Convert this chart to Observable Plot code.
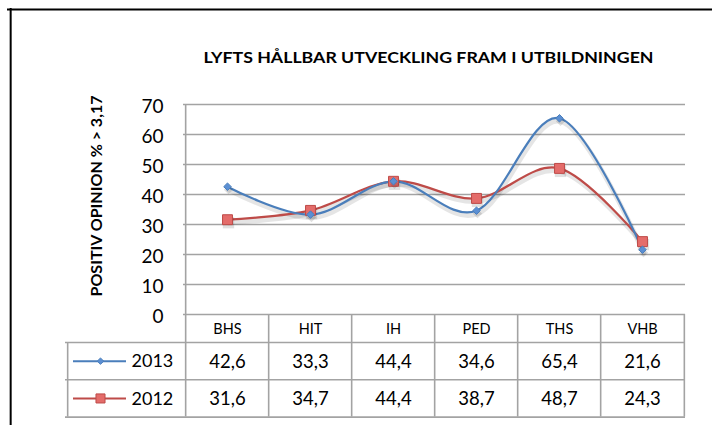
<!DOCTYPE html>
<html><head><meta charset="utf-8">
<script src="https://cdn.jsdelivr.net/npm/d3@7"></script>
<script src="https://cdn.jsdelivr.net/npm/@observablehq/plot@0.6"></script>
<style>
html,body{margin:0;padding:0;background:#fff;overflow:hidden;}
#chart{width:712px;height:425px;}
#chart svg{display:block;}
</style></head><body><div id="chart"></div>
<script>
// ---- data ----
const categories = ["BHS", "HIT", "IH", "PED", "THS", "VHB"];
const values2013 = [42.6, 33.3, 44.4, 34.6, 65.4, 21.6];
const values2012 = [31.6, 34.7, 44.4, 38.7, 48.7, 24.3];
const seriesNames = ["2013", "2012"];
const yTicks = [0, 10, 20, 30, 40, 50, 60, 70];
const titleText = "LYFTS HÅLLBAR UTVECKLING FRAM I UTBILDNINGEN";
const yLabelText = "POSITIV OPINION % > 3,17";

// ---- layout / style ----
const W = 712, H = 425, mL = 183, mR = 27, mT = 104, mB = 111;
const step = (W - mL - mR) / categories.length;
const headerH = 28, rowH = 37.3;
const tableH = headerH + 2 * rowH;
const legendLeft = 65;
const colors = {"2013": "#4A7EBB", "2012": "#BE4B48"};
const fills = {"2013": "#5B8FD3", "2012": "#E46C6A"};
const symbols = {"2013": "diamond2", "2012": "square"};
const radii = {"2013": 3.4, "2012": 5.6};
const legendRadii = {"2013": 2.9, "2012": 5.1};
const font = "Lato, 'Open Sans', sans-serif";
const grid = "#a3a3a3";
const titleWidth = 450, yLabelWidth = 201;

const locale = d3.formatLocale({decimal: ",", thousands: " ", grouping: [3], currency: ["", " kr"]});
const fmt = locale.format(".1f");

const seriesValues = {"2013": values2013, "2012": values2012};
const rows = seriesNames.flatMap(s => categories.map((c, i) => ({cat: c, series: s, value: seriesValues[s][i]})));

function build() {
  const yTop = yTicks[yTicks.length - 1];
  const frameCx = mL + (W - mL - mR) / 2, frameCy = mT + (H - mT - mB) / 2;
  const marks = [];
  // outer black border (top & left)
  marks.push(Plot.ruleY([yTop], {y: d => d, dy: -(mT - 9), insetLeft: -(mL - 7), insetRight: -mR, stroke: "#000", strokeWidth: 2}));
  marks.push(Plot.ruleX([categories[0]], {x: d => d, dx: -step / 2 - (mL - 8), y1: yTop, y2: 0, insetTop: -(mT - 8), insetBottom: -mB, stroke: "#000", strokeWidth: 2}));
  // gridlines (y=0 doubles as table top border)
  marks.push(Plot.ruleY(yTicks, {y: d => d, stroke: grid, strokeWidth: 1.4}));
  // y tick labels
  marks.push(Plot.axisY(yTicks, {tickSize: 0, tickPadding: 20, fontSize: 19, fontFamily: font, fill: "#000", dy: 2, label: null, tickFormat: d => d}));
  // y-axis vertical line + table left border of category columns
  marks.push(Plot.ruleX([categories[0]], {x: d => d, dx: -step / 2, y1: yTop, y2: 0, insetBottom: -tableH, stroke: grid, strokeWidth: 1.6}));
  marks.push(Plot.ruleX(categories.slice(1), {x: d => d, dx: -step / 2, y1: 0, y2: 0, insetBottom: -tableH, stroke: grid, strokeWidth: 1.6}));
  marks.push(Plot.ruleX([categories[categories.length - 1]], {x: d => d, dx: step / 2, y1: 0, y2: 0, insetBottom: -tableH, stroke: grid, strokeWidth: 1.6}));
  // legend column left border
  marks.push(Plot.ruleX([categories[0]], {x: d => d, dx: -step / 2 - (mL - legendLeft), y1: 0, y2: 0, insetTop: headerH, insetBottom: -tableH, stroke: grid, strokeWidth: 1.6}));
  // table horizontal lines
  [headerH, headerH + rowH, tableH].forEach(off => {
    marks.push(Plot.ruleY([0], {y: d => d, dy: off, insetLeft: -(mL - legendLeft), stroke: grid, strokeWidth: 1.6}));
  });
  // title
  marks.push(Plot.text([titleText], {frameAnchor: "top", textAnchor: "middle", lineAnchor: "middle", dx: 428 - frameCx, dy: 57 - mT, fontSize: 16, fontWeight: "bold", fontFamily: font, fill: "#000"}));
  // y label
  marks.push(Plot.text([yLabelText], {frameAnchor: "left", textAnchor: "middle", lineAnchor: "middle", rotate: -90, dx: -(mL - 96), dy: 195.5 - frameCy, fontSize: 16, fontWeight: "bold", fontFamily: font, fill: "#000"}));
  // line shadows, lines, markers
  seriesNames.slice().reverse().forEach(s => {
    const d = rows.filter(r => r.series === s);
    marks.push(Plot.line(d, {x: "cat", y: "value", curve: "cardinal", stroke: "#000", strokeOpacity: 0.1, strokeWidth: 5, dx: 1, dy: 3}));
  });
  seriesNames.slice().reverse().forEach(s => {
    const d = rows.filter(r => r.series === s);
    marks.push(Plot.line(d, {x: "cat", y: "value", curve: "cardinal", stroke: colors[s], strokeWidth: 2.2}));
  });
  seriesNames.slice().reverse().forEach(s => {
    const d = rows.filter(r => r.series === s);
    marks.push(Plot.dot(d, {x: "cat", y: "value", symbol: symbols[s], r: radii[s] + 0.8, fill: "#000", fillOpacity: 0.12, dx: 1, dy: 3}));
    marks.push(Plot.dot(d, {x: "cat", y: "value", symbol: symbols[s], r: radii[s], fill: fills[s], stroke: colors[s], strokeWidth: 1}));
  });
  // table header: categories
  marks.push(Plot.text(categories, {x: d => d, frameAnchor: "bottom", lineAnchor: "middle", dy: headerH / 2 + 0.5, fontSize: 14.5, fontFamily: font, fill: "#000"}));
  // table rows
  seriesNames.forEach((s, i) => {
    const cy = headerH + rowH * i + rowH / 2 + 0.5;
    const d = rows.filter(r => r.series === s);
    marks.push(Plot.text(d, {x: "cat", text: r => fmt(r.value), frameAnchor: "bottom", lineAnchor: "middle", dy: cy, fontSize: 18.5, fontFamily: font, fill: "#000"}));
    // legend key
    marks.push(Plot.ruleY([0], {y: v => v, dy: cy - 0.5, insetLeft: -(mL - 73), insetRight: (W - mR) - 126, stroke: colors[s], strokeWidth: 2}));
    marks.push(Plot.dot([s], {frameAnchor: "bottom-left", dx: -(mL - 100), dy: cy - 0.5, symbol: symbols[s], r: legendRadii[s], fill: fills[s], stroke: colors[s], strokeWidth: 1}));
    marks.push(Plot.text([s], {frameAnchor: "bottom-left", dx: -(mL - 131), dy: cy, textAnchor: "start", lineAnchor: "middle", fontSize: 18, fontFamily: font, fill: "#000"}));
  });

  const chart = Plot.plot({
    width: W, height: H,
    marginLeft: mL, marginRight: mR, marginTop: mT, marginBottom: mB,
    style: {fontFamily: font, background: "#fff"},
    x: {type: "point", domain: categories, padding: 0.5, axis: null},
    y: {domain: [0, 70], axis: null},
    marks
  });
  // fit the bold title and axis label to the reference's text widths
  d3.select(chart).selectAll("text").each(function() {
    if (this.textContent === titleText) d3.select(this).attr("textLength", titleWidth).attr("lengthAdjust", "spacingAndGlyphs");
    if (this.textContent === yLabelText) d3.select(this).attr("textLength", yLabelWidth).attr("lengthAdjust", "spacingAndGlyphs");
  });
  document.getElementById("chart").appendChild(chart);
}
(document.fonts && document.fonts.load ? Promise.all([document.fonts.load("bold 20px Lato"), document.fonts.load("20px Lato")]).catch(() => {}) : Promise.resolve()).then(build);
</script></body></html>
